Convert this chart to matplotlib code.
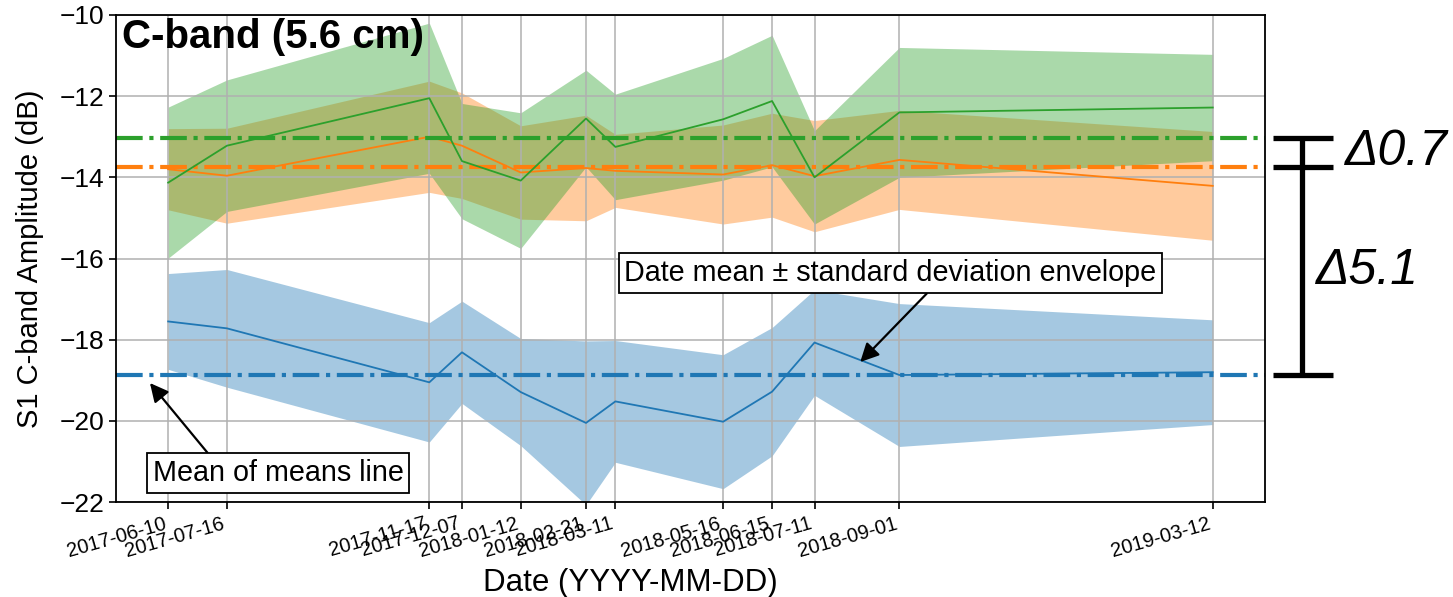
import numpy as np
import pandas as pd
import matplotlib
matplotlib.use('Agg')
import matplotlib.pyplot as plt

plt.rcParams['font.family'] = ['Liberation Sans', 'DejaVu Sans']

dates = ['2017-06-10', '2017-07-16', '2017-11-17', '2017-12-07', '2018-01-12', '2018-02-21',
         '2018-03-11', '2018-05-16', '2018-06-15', '2018-07-11', '2018-09-01', '2019-03-12']

blue_mean = [-17.55, -17.72, -19.05, -18.31, -19.29, -20.05, -19.52, -20.02, -19.28, -18.07, -18.87, -18.80]
blue_std = [1.18, 1.45, 1.47, 1.26, 1.32, 2.02, 1.50, 1.65, 1.58, 1.30, 1.76, 1.29]

orange_mean = [-13.80, -13.96, -13.00, -13.22, -13.88, -13.77, -13.84, -13.93, -13.70, -13.97, -13.57, -14.21]
orange_std = [1.00, 1.17, 1.37, 1.30, 1.15, 1.30, 0.90, 1.22, 1.28, 1.37, 1.22, 1.34]

green_mean = [-14.13, -13.22, -12.05, -13.60, -14.08, -12.55, -13.25, -12.57, -12.12, -14.00, -12.40, -12.28]
green_std = [1.86, 1.62, 1.85, 1.42, 1.67, 1.19, 1.30, 1.50, 1.62, 1.15, 1.60, 1.31]

x = pd.to_datetime(dates)

fig = plt.figure(figsize=(14.53, 5.97), dpi=100)
ax = fig.add_axes([0.0798, 0.159, 0.7908, 0.8159])

mm = []
for mean, std, col in [(blue_mean, blue_std, 'C0'),
                       (orange_mean, orange_std, 'C1'),
                       (green_mean, green_std, 'C2')]:
    m = np.array(mean)
    s = np.array(std)
    ax.fill_between(x, m - s, m + s, color=col, alpha=0.4, lw=0)
    ax.plot(x, m, color=col, lw=1.3)
    ax.axhline(m.mean(), color=col, ls='-.', lw=3)
    mm.append(m.mean())

b_mm, o_mm, g_mm = mm

ax.set_ylim(-22, -10)
ax.set_yticks(np.arange(-22, -9, 2))
ax.set_xticks(x)
ax.set_xticklabels(dates, rotation=16, ha='right', fontsize=14.5)
ax.tick_params(axis='y', labelsize=19)
ax.tick_params(length=5, width=1.2)
ax.grid(True, color='#b0b0b0', lw=1.1)
for sp in ax.spines.values():
    sp.set_linewidth(1.3)

ax.set_xlabel('Date (YYYY-MM-DD)', fontsize=22.5)
ax.xaxis.set_label_coords(0.448, -0.135)
ax.set_ylabel('S1 C-band Amplitude (dB)', fontsize=21)
ax.yaxis.set_label_coords(-0.063, 0.5)

ax.text(0.005, 0.993, 'C-band (5.6 cm)', transform=ax.transAxes, fontsize=29,
        fontweight='bold', va='top', ha='left')

box = dict(boxstyle='square,pad=0.2', fc='white', ec='black', lw=1.3)
ax.annotate('Mean of means line', xy=(0.0296, 0.2444), xycoords='axes fraction',
            xytext=(0.141, 0.0595), textcoords='axes fraction', ha='center', va='center',
            fontsize=20.7, bbox=box,
            arrowprops=dict(arrowstyle='-|>', color='black', lw=1.6, mutation_scale=28,
                            relpos=(0.24, 1.0), shrinkA=0, shrinkB=0))
ax.annotate('Date mean \u00b1 standard deviation envelope',
            xy=(pd.Timestamp('2018-08-08'), -18.55), xycoords='data',
            xytext=(0.674, 0.470), textcoords='axes fraction', ha='center', va='center',
            fontsize=20.7, bbox=box,
            arrowprops=dict(arrowstyle='-|>', color='black', lw=1.6, mutation_scale=28,
                            relpos=(0.58, 0.0), shrinkA=0, shrinkB=0))

# bracket showing the gaps between the mean-of-means lines
trans = ax.get_yaxis_transform()
for y in [g_mm, o_mm, b_mm]:
    ax.plot([1.007, 1.059], [y, y], transform=trans, color='black', lw=3.8,
            clip_on=False, solid_capstyle='butt')
ax.plot([1.032, 1.032], [g_mm, b_mm], transform=trans, color='black', lw=3.8,
        clip_on=False, solid_capstyle='butt')
ax.text(1.0696, (g_mm + o_mm) / 2, f'\u0394{g_mm - o_mm:.1f}', transform=trans, fontsize=36,
        style='italic', va='center', ha='left', clip_on=False)
ax.text(1.0444, (o_mm + b_mm) / 2, f'\u0394{o_mm - b_mm:.1f}', transform=trans, fontsize=36,
        style='italic', va='center', ha='left', clip_on=False)

fig.savefig('out.png', dpi=100)
